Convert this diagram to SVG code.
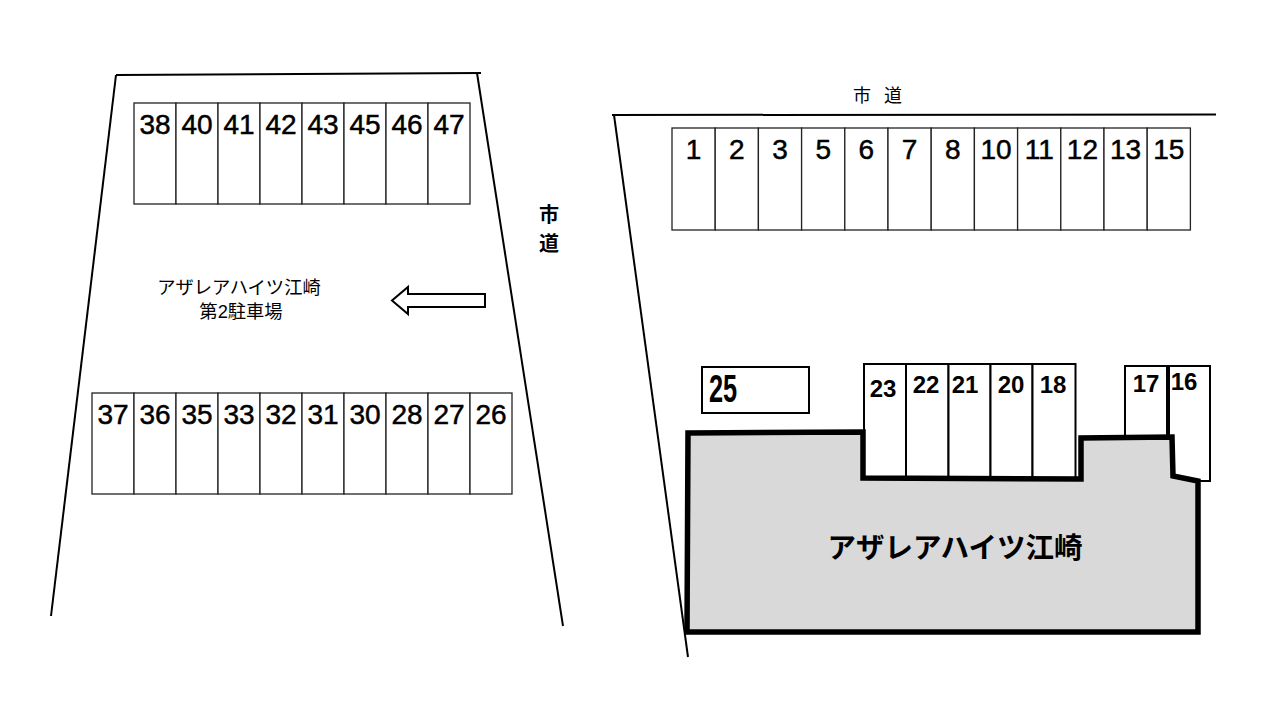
<svg xmlns="http://www.w3.org/2000/svg" width="1280" height="720" viewBox="0 0 1280 720">
<style>
.cell{fill:#fff;stroke:#222;stroke-width:1.300}
.n{font-family:"Liberation Sans",Arial,sans-serif;font-size:28px;text-anchor:middle;fill:#000;stroke:#000;stroke-width:.5}
.b{font-family:"Liberation Sans",Arial,sans-serif;font-size:24px;text-anchor:middle;fill:#000;font-weight:700}
.j{font-family:"Noto Sans CJK JP",sans-serif;text-anchor:middle;fill:#000}
.road{fill:none;stroke:#000;stroke-width:2}
.cb{fill:#fff;stroke:#000;stroke-width:2}
</style>
<g id="connectors">
<path class="road" d="M51 616L116 75"/><path class="road" d="M116 75L481 73"/><path class="road" d="M477 73L563 626"/>
<path class="road" d="M688 657L614 115"/><path class="road" d="M612 115L1216 114.500"/>
</g>
<g id="lot-top">
<rect class="cell" x="134" y="103" width="42" height="101"/><rect class="cell" x="176" y="103" width="42" height="101"/><rect class="cell" x="218" y="103" width="42" height="101"/><rect class="cell" x="260" y="103" width="42" height="101"/><rect class="cell" x="302" y="103" width="42" height="101"/><rect class="cell" x="344" y="103" width="42" height="101"/><rect class="cell" x="386" y="103" width="42" height="101"/><rect class="cell" x="428" y="103" width="42" height="101"/>
<text class="n" x="155" y="134">38</text><text class="n" x="197" y="134">40</text><text class="n" x="239" y="134">41</text><text class="n" x="281" y="134">42</text><text class="n" x="323" y="134">43</text><text class="n" x="365" y="134">45</text><text class="n" x="407" y="134">46</text><text class="n" x="449" y="134">47</text>
</g>
<g id="lot-bottom">
<rect class="cell" x="92" y="393" width="42" height="101"/><rect class="cell" x="134" y="393" width="42" height="101"/><rect class="cell" x="176" y="393" width="42" height="101"/><rect class="cell" x="218" y="393" width="42" height="101"/><rect class="cell" x="260" y="393" width="42" height="101"/><rect class="cell" x="302" y="393" width="42" height="101"/><rect class="cell" x="344" y="393" width="42" height="101"/><rect class="cell" x="386" y="393" width="42" height="101"/><rect class="cell" x="428" y="393" width="42" height="101"/><rect class="cell" x="470" y="393" width="42" height="101"/>
<text class="n" x="113" y="424">37</text><text class="n" x="155" y="424">36</text><text class="n" x="197" y="424">35</text><text class="n" x="239" y="424">33</text><text class="n" x="281" y="424">32</text><text class="n" x="323" y="424">31</text><text class="n" x="365" y="424">30</text><text class="n" x="407" y="424">28</text><text class="n" x="449" y="424">27</text><text class="n" x="491" y="424">26</text>
</g>
<g id="lot-label">
<text class="j" font-size="18.300" x="239" y="294">アザレアハイツ江崎</text>
<text class="j" font-size="18.300" x="241" y="318">第<tspan font-family="Liberation Sans">2</tspan>駐車場</text>
</g>
<g id="arrow"><path d="M485 294V307H408V314L392 300.500L408 287V294Z" fill="#fff" stroke="#000" stroke-width="2"/></g>
<g id="road-left"><text class="j" font-size="20" font-weight="700" x="549" y="222">市</text><text class="j" font-size="20" font-weight="700" x="549" y="251">道</text></g>
<g id="road-right"><text class="j" font-size="18" x="862" y="102">市</text><text class="j" font-size="18" x="893" y="102">道</text></g>
<g id="row-1">
<rect class="cell" x="672" y="128" width="43.200" height="102"/><rect class="cell" x="715.200" y="128" width="43.200" height="102"/><rect class="cell" x="758.400" y="128" width="43.200" height="102"/><rect class="cell" x="801.600" y="128" width="43.200" height="102"/><rect class="cell" x="844.800" y="128" width="43.200" height="102"/><rect class="cell" x="888" y="128" width="43.200" height="102"/><rect class="cell" x="931.200" y="128" width="43.200" height="102"/><rect class="cell" x="974.400" y="128" width="43.200" height="102"/><rect class="cell" x="1017.600" y="128" width="43.200" height="102"/><rect class="cell" x="1060.800" y="128" width="43.200" height="102"/><rect class="cell" x="1104" y="128" width="43.200" height="102"/><rect class="cell" x="1147.200" y="128" width="43.200" height="102"/>
<text class="n" x="693.600" y="159">1</text><text class="n" x="736.800" y="159">2</text><text class="n" x="780" y="159">3</text><text class="n" x="823.200" y="159">5</text><text class="n" x="866.400" y="159">6</text><text class="n" x="909.600" y="159">7</text><text class="n" x="952.800" y="159">8</text><text class="n" x="996" y="159">10</text><text class="n" x="1039.200" y="159">11</text><text class="n" x="1082.400" y="159">12</text><text class="n" x="1125.600" y="159">13</text><text class="n" x="1168.800" y="159">15</text>
</g>
<g id="space-25"><rect class="cb" x="702" y="367" width="107" height="46"/><text x="723" y="402" text-anchor="middle" font-family="Liberation Sans,sans-serif" font-size="39" font-weight="700" transform="translate(723 0) scale(.65 1) translate(-723 0)">25</text></g>
<g id="row-2">
<rect class="cb" x="864" y="364" width="42" height="114"/><rect class="cb" x="906" y="364" width="42.500" height="114"/><rect class="cb" x="948.500" y="364" width="42" height="114"/><rect class="cb" x="990.500" y="364" width="42" height="114"/><rect class="cb" x="1032.500" y="364" width="43" height="114"/>
<text class="b" x="883" y="397">23</text><text class="b" x="926" y="393">22</text><text class="b" x="965" y="393">21</text><text class="b" x="1011" y="393">20</text><text class="b" x="1053" y="393">18</text>
</g>
<g id="row-3">
<rect class="cb" x="1125" y="366" width="43" height="72"/><rect class="cb" x="1168" y="366" width="42" height="115"/>
<text class="b" x="1146" y="392">17</text><text class="b" x="1184" y="390" font-size="22">16</text>
<path d="M1168 366V438" stroke="#000" stroke-width="4"/>
</g>
<g id="building">
<path d="M688 433L863 432V478L1081 479V438L1172 437L1173 476L1198 481V632L687 632Z" fill="#d9d9d9" stroke="#000" stroke-width="5.500"/>
<text class="j" font-size="28.500" font-weight="700" x="955" y="558">アザレアハイツ江崎</text>
</g>
</svg>
